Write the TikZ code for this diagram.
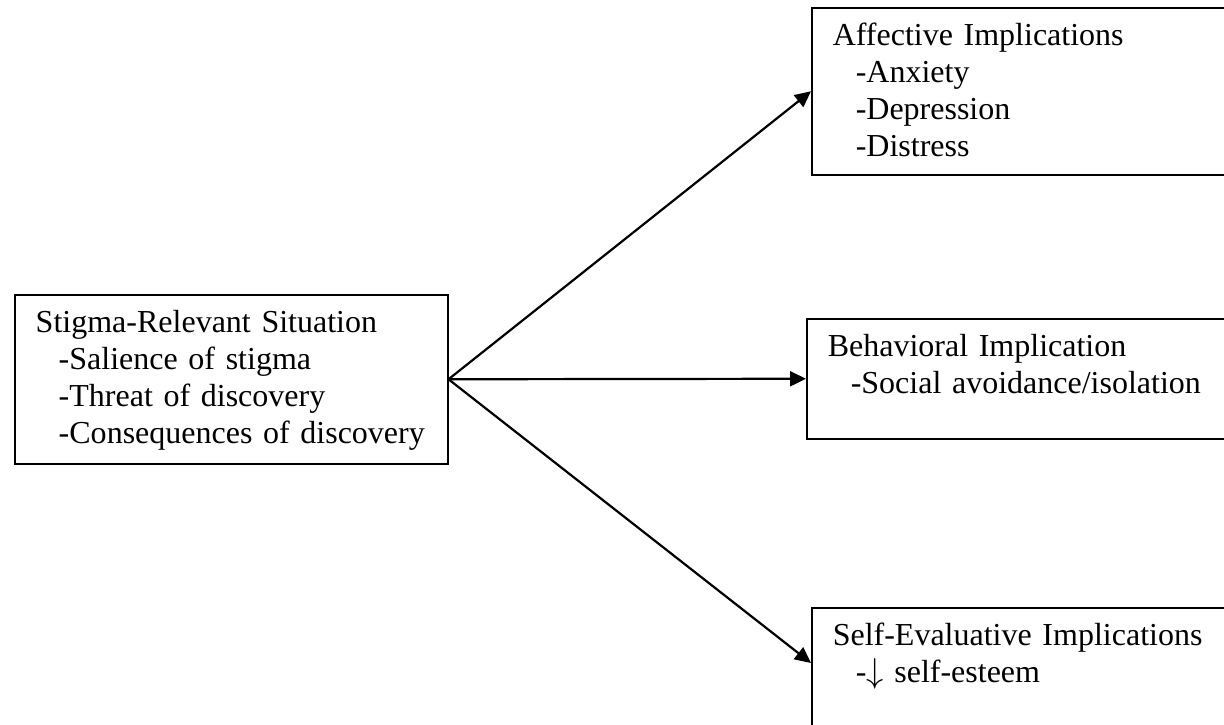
\documentclass[tikz,border=0pt]{standalone}
\usepackage{fontspec}
\setmainfont{Liberation Serif}
\usetikzlibrary{positioning,arrows.meta}

\newcommand{\ind}{\hspace*{11.5pt}}

\begin{document}
\begin{tikzpicture}[
  x=0.5pt, y=-0.5pt,
  every node/.style = {align=left, font=\fontsize{16}{18.5}\selectfont},
  box/.style = {draw, line width=0.75pt, anchor=north west,
    inner xsep=10.5pt, inner ysep=0pt, text height=19pt},
  >={Triangle[length=8pt,width=7.5pt]}
]
  \useasboundingbox (0,0) rectangle (1224,724);
  % situation on the left
  \node[box, text width=195.5pt, text depth=65.5pt] (sit) at (14,294)
    {Stigma-Relevant Situation\\ \ind-Salience of stigma\\
     \ind-Threat of discovery\\ \ind-Consequences of discovery};
  % the three implications
  \node[box, text width=220pt, text depth=64.5pt] (aff) at (811,7)
    {Affective Implications\\ \ind-Anxiety\\ \ind-Depression\\ \ind-Distress};
  \node[box, text width=220pt, text depth=41pt] (beh) at (806,318)
    {Behavioral Implication\\ \ind-Social avoidance/isolation};
  \node[box, text width=220pt, text depth=57.5pt] (selfev) at (811,607)
    {Self-Evaluative Implications\\ \ind-$\downarrow$ self-esteem};
  \coordinate (selfin) at ([yshift=-28pt]selfev.north west);
  \draw[->, line width=1.1pt] (sit.east) -- (aff.west);
  \draw[->, line width=1.1pt] (sit.east) -- (beh.west);
  \draw[->, line width=1.1pt] (sit.east) -- (selfin);
\end{tikzpicture}
\end{document}
